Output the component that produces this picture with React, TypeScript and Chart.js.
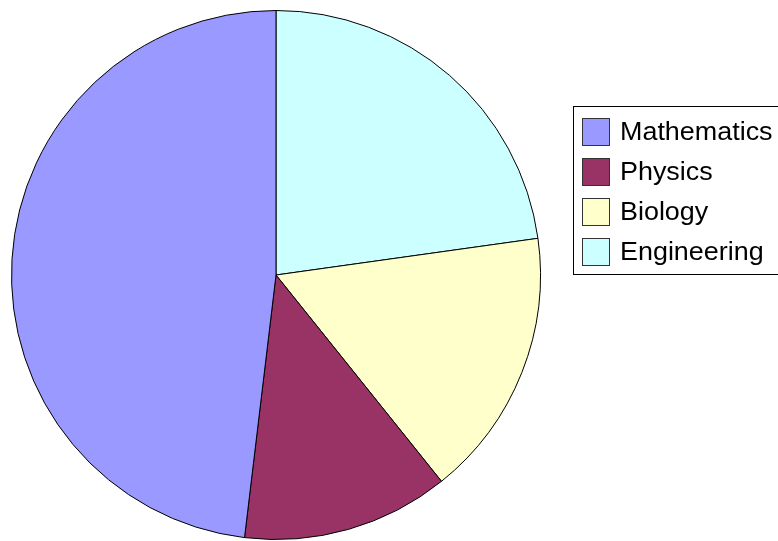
import React, { useEffect, useRef } from "react";
import { Chart, registerables } from "chart.js";

Chart.register(...registerables);

const categories = ["Mathematics", "Physics", "Biology", "Engineering"];
const values = [38, 10, 13, 18];
const colors = ["#9999FF", "#993366", "#FFFFCC", "#CCFFFF"];

const legendPlugin = {
  id: "frameLegend",
  afterDraw(chart: any) {
    const ctx = chart.ctx as CanvasRenderingContext2D;
    ctx.save();
    ctx.fillStyle = "#FFFFFF";
    ctx.fillRect(573.5, 106.5, 230, 168);
    ctx.strokeStyle = "#000000";
    ctx.lineWidth = 1;
    ctx.strokeRect(573.5, 106.5, 230, 168);
    ctx.font = '26px "Liberation Sans", Arial, sans-serif';
    ctx.textBaseline = "middle";
    ctx.textAlign = "left";
    categories.forEach((name, i) => {
      const cy = 132 + i * 40;
      ctx.fillStyle = colors[i];
      ctx.fillRect(582.5, cy - 13.5, 27, 27);
      ctx.strokeStyle = "#333333";
      ctx.strokeRect(582.5, cy - 13.5, 27, 27);
      ctx.fillStyle = "#000000";
      ctx.save();
      ctx.translate(620, cy + 1);
      ctx.scale(1.035, 1);
      ctx.fillText(name, 0, 0);
      ctx.restore();
    });
    ctx.restore();
  },
};

export default function App() {
  const ref = useRef<HTMLCanvasElement>(null);
  useEffect(() => {
    document.body.style.margin = "0";
    const idx = categories.map((_, i) => i).reverse();
    const chart = new Chart(ref.current!, {
      type: "pie",
      data: {
        labels: idx.map((i) => categories[i]),
        datasets: [
          {
            data: idx.map((i) => values[i]),
            backgroundColor: idx.map((i) => colors[i]),
            borderColor: "#000000",
            borderWidth: 1,
          },
        ],
      },
      options: {
        responsive: false,
        animation: false,
        rotation: 0,
        layout: { padding: { left: 11, right: 237, top: 10, bottom: 1 } },
        plugins: {
          legend: { display: false },
          tooltip: { enabled: false },
        },
      },
      plugins: [legendPlugin],
    });
    return () => chart.destroy();
  }, []);
  return (
    <div style={{ width: 778, height: 541, background: "#FFFFFF" }}>
      <canvas ref={ref} width={778} height={541} style={{ display: "block" }} />
    </div>
  );
}
